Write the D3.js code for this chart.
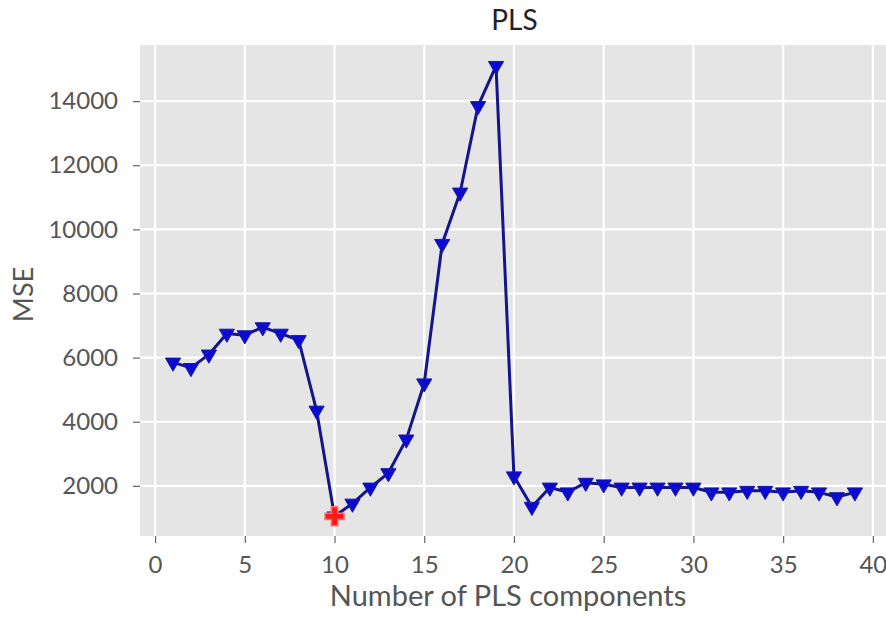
<!DOCTYPE html>
<html>
<head>
<meta charset="utf-8">
<script src="https://cdn.jsdelivr.net/npm/d3@7"></script>
<style>
  body { margin: 0; background: #fff; }
  text { font-family: Lato, "DejaVu Sans", sans-serif; }
</style>
</head>
<body>
<svg id="chart"></svg>
<script>
const components = d3.range(1, 40);
const mse = [5850, 5680, 6100, 6750, 6700, 6950, 6750, 6550, 4350, 1050,
             1450, 1950, 2400, 3450, 5200, 9550, 11150, 13850, 15100, 2300,
             1350, 1950, 1800, 2100, 2050, 1950, 1950, 1950, 1950, 1950,
             1800, 1800, 1850, 1850, 1800, 1850, 1800, 1650, 1800];
const bestComp = 10;
const xTicks = [0, 5, 10, 15, 20, 25, 30, 35, 40];
const yTicks = [2000, 4000, 6000, 8000, 10000, 12000, 14000];

const width = 886, height = 619;
const margin = { top: 45, right: -3, bottom: 83, left: 140 };

const svg = d3.select("#chart").attr("width", width).attr("height", height);

const iw = width - margin.left - margin.right;
const ih = height - margin.top - margin.bottom;

const x = d3.scaleLinear().domain([-0.84, 40.9]).range([0, iw]);
const y = d3.scaleLinear().domain([437, 15750]).range([ih, 0]);

const g = svg.append("g").attr("transform", `translate(${margin.left},${margin.top})`);

g.append("rect").attr("width", iw).attr("height", ih).attr("fill", "#e5e5e5");

// grid
g.selectAll(".gx").data(xTicks).enter().append("line")
    .attr("x1", d => x(d)).attr("x2", d => x(d))
    .attr("y1", 0).attr("y2", ih)
    .attr("stroke", "#fff").attr("stroke-width", 2.2);
g.selectAll(".gy").data(yTicks).enter().append("line")
    .attr("x1", 0).attr("x2", iw)
    .attr("y1", d => y(d)).attr("y2", d => y(d))
    .attr("stroke", "#fff").attr("stroke-width", 2.2);

// axes
const xAxis = g.append("g").attr("transform", `translate(0,${ih})`)
    .call(d3.axisBottom(x).tickValues(xTicks).tickFormat(d3.format("d")).tickSize(7).tickPadding(13));
const yAxis = g.append("g")
    .call(d3.axisLeft(y).tickValues(yTicks).tickFormat(d3.format("d")).tickSize(7).tickPadding(15));
[xAxis, yAxis].forEach(a => {
    a.select(".domain").remove();
    a.selectAll(".tick line").attr("stroke", "#666").attr("stroke-width", 1.2);
    a.selectAll(".tick text").attr("fill", "#555").style("font-size", "24px")
        .style("font-family", "Lato, sans-serif");
});

// line
const line = d3.line().x((d, i) => x(components[i])).y(d => y(d));
g.append("path").datum(mse)
    .attr("d", line)
    .attr("fill", "none")
    .attr("stroke", "#14148c")
    .attr("stroke-width", 3)
    .attr("stroke-linejoin", "round");

// triangle-down markers
const tri = d3.symbol().type(d3.symbolTriangle).size(100);
g.selectAll(".m").data(mse).enter().append("path")
    .attr("d", tri)
    .attr("transform", (d, i) => `translate(${x(components[i])},${y(d)}) rotate(180)`)
    .attr("fill", "#0a0ad2")
    .attr("stroke", "#1a1aa0")
    .attr("stroke-width", 1);

// best marker
g.append("path")
    .attr("d", d3.symbol().type(d3.symbolCross).size(200))
    .attr("transform", `translate(${x(bestComp)},${y(mse[bestComp - 1])})`)
    .attr("fill", "#ff1a1a")
    .attr("stroke", "#ff7070")
    .attr("stroke-width", 1.5);

// labels
svg.append("text")
    .attr("x", margin.left + iw / 2).attr("y", 30)
    .attr("text-anchor", "middle")
    .style("font-size", "28px").attr("fill", "#222")
    .text("PLS");

svg.append("text")
    .attr("x", 508).attr("y", 606)
    .attr("text-anchor", "middle")
    .style("font-size", "29px").attr("fill", "#555")
    .text("Number of PLS components");

svg.append("text")
    .attr("transform", `translate(33,${margin.top + ih / 2 + 4}) rotate(-90)`)
    .attr("text-anchor", "middle")
    .style("font-size", "27px").attr("fill", "#555")
    .text("MSE");
</script>
</body>
</html>
